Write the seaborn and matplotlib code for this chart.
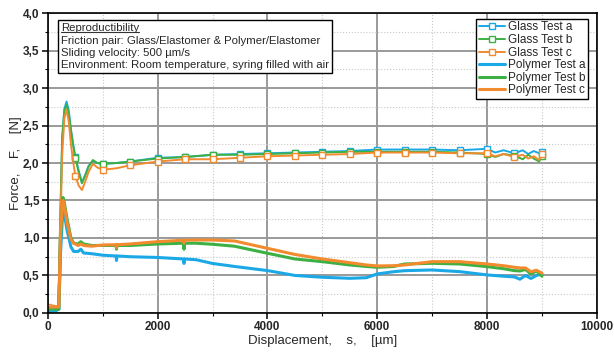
import numpy as np
import pandas as pd
import seaborn as sns
from matplotlib import pyplot as plt
from matplotlib.ticker import MultipleLocator

# glass / elastomer runs
glass_s = [0, 100, 190, 220, 260, 300, 340, 380, 420, 460, 500, 560, 620, 680, 740,
           820, 900, 1000, 1250, 1500, 2000, 2500, 3000, 3500, 4000, 4500, 5000, 5500,
           6000, 6500, 7000, 7500, 8000, 8150, 8300, 8500, 8650, 8750, 8850, 8950, 9000]
glass_a = [0.05, 0.05, 0.06, 1.0, 2.3, 2.72, 2.82, 2.7, 2.45, 2.25, 2.08, 1.9, 1.74, 1.84, 1.96,
           2.03, 2.0, 1.99, 2.0, 2.02, 2.07, 2.08, 2.11, 2.12, 2.13, 2.14, 2.15, 2.16,
           2.18, 2.18, 2.18, 2.17, 2.19, 2.14, 2.17, 2.13, 2.17, 2.12, 2.16, 2.13, 2.15]
glass_b = [0.05, 0.05, 0.06, 1.1, 2.35, 2.7, 2.78, 2.66, 2.43, 2.24, 2.07, 1.88, 1.73, 1.83, 1.95,
           2.04, 2.0, 1.99, 2.0, 2.02, 2.06, 2.08, 2.11, 2.11, 2.12, 2.13, 2.14, 2.15,
           2.15, 2.15, 2.15, 2.14, 2.12, 2.08, 2.12, 2.1, 2.05, 2.11, 2.06, 2.02, 2.1]
glass_c = [0.08, 0.1, 0.08, 0.9, 2.1, 2.6, 2.71, 2.55, 2.25, 2.02, 1.83, 1.7, 1.64, 1.75, 1.88,
           1.99, 1.94, 1.91, 1.93, 1.97, 2.02, 2.05, 2.05, 2.07, 2.09, 2.1, 2.11, 2.12,
           2.14, 2.14, 2.14, 2.13, 2.13, 2.09, 2.12, 2.08, 2.11, 2.06, 2.09, 2.04, 2.12]

# polymer / elastomer runs
poly_s = [0, 150, 200, 230, 275, 300, 350, 420, 470, 550, 600, 650, 800, 1000, 1240, 1250,
          1260, 1500, 2000, 2470, 2480, 2490, 2700, 3000, 3400, 4000, 4500, 5000, 5500,
          5800, 6000, 6300, 6500, 7000, 7500, 8000, 8300, 8500, 8600, 8700, 8800, 8900, 9000]
poly_a = [0.03, 0.03, 0.05, 0.8, 1.42, 1.32, 1.1, 0.88, 0.82, 0.82, 0.85, 0.8, 0.79, 0.77, 0.76, 0.7,
          0.76, 0.75, 0.74, 0.72, 0.66, 0.72, 0.71, 0.66, 0.62, 0.565, 0.5, 0.476, 0.462,
          0.47, 0.52, 0.55, 0.564, 0.573, 0.551, 0.507, 0.49, 0.48, 0.45, 0.5, 0.46, 0.5, 0.52]
poly_b = [0.05, 0.05, 0.05, 1.0, 1.54, 1.47, 1.25, 1.0, 0.93, 0.92, 0.95, 0.92, 0.9, 0.9, 0.9, 0.85,
          0.9, 0.9, 0.92, 0.93, 0.85, 0.93, 0.93, 0.916, 0.89, 0.796, 0.72, 0.684, 0.64,
          0.62, 0.609, 0.62, 0.653, 0.662, 0.653, 0.618, 0.59, 0.564, 0.56, 0.58, 0.52, 0.56, 0.49]
poly_c = [0.08, 0.08, 0.08, 1.1, 1.5, 1.43, 1.2, 0.98, 0.93, 0.9, 0.92, 0.9, 0.89, 0.907, 0.91, 0.87,
          0.91, 0.92, 0.951, 0.97, 0.93, 0.97, 0.973, 0.973, 0.96, 0.862, 0.78, 0.72, 0.67,
          0.64, 0.627, 0.63, 0.64, 0.684, 0.684, 0.653, 0.63, 0.609, 0.6, 0.6, 0.55, 0.57, 0.53]

series_labels = ["Glass Test a", "Glass Test b", "Glass Test c",
                 "Polymer Test a", "Polymer Test b", "Polymer Test c"]
colors = ["#1aa9e6", "#3cb043", "#f28a2e"]

yticks = [0.0, 0.5, 1.0, 1.5, 2.0, 2.5, 3.0, 3.5, 4.0]
ytick_labels = ["0,0", "0,5", "1,0", "1,5", "2,0", "2,5", "3,0", "3,5", "4,0"]
xticks = [0, 2000, 4000, 6000, 8000, 10000]

info_head = "Reproductibility"
info_lines = ["Friction pair: Glass/Elastomer & Polymer/Elastomer",
              "Sliding velocity: 500 µm/s",
              "Environment: Room temperature, syring filled with air"]

sns.set_style("white")
plt.rcParams["font.family"] = ["Liberation Sans", "DejaVu Sans"]

fig = plt.figure(figsize=(6.14, 3.54), dpi=100)
ax = fig.add_axes([0.078, 0.116, 0.894, 0.847])

glass_marks = [i for i, s in enumerate(glass_s) if s % 500 == 0]
for vals, lab, col in zip([glass_a, glass_b, glass_c], series_labels[:3], colors):
    df = pd.DataFrame({"s": glass_s, "F": vals})
    sns.lineplot(data=df, x="s", y="F", ax=ax, color=col, lw=1.4, label=lab,
                 marker="s", markersize=4, markerfacecolor="white",
                 markeredgecolor=col, markeredgewidth=1.0, markevery=glass_marks)
for vals, lab, col in zip([poly_a, poly_b, poly_c], series_labels[3:], colors):
    df = pd.DataFrame({"s": poly_s, "F": vals})
    sns.lineplot(data=df, x="s", y="F", ax=ax, color=col, lw=2.2, label=lab)

ax.set_xlim(0, 10000)
ax.set_ylim(0, 4.0)
ax.set_xticks(xticks)
ax.set_xticklabels([str(t) for t in xticks], fontweight="bold", fontsize=8.5)
ax.set_yticks(yticks)
ax.set_yticklabels(ytick_labels, fontweight="bold", fontsize=8.5)
ax.xaxis.set_minor_locator(MultipleLocator(1000))
ax.yaxis.set_minor_locator(MultipleLocator(0.25))
ax.grid(which="major", color="#9a9a9a", lw=1.4)
ax.grid(which="minor", color="#c8c8c8", lw=0.8, ls=":")
ax.set_axisbelow(True)
ax.tick_params(which="major", direction="out", length=4, width=1.1, color="black", pad=2, left=True, bottom=True)
ax.tick_params(which="minor", direction="out", length=2, width=0.8, color="black", left=True, bottom=True)
for sp in ax.spines.values():
    sp.set_color("black")
    sp.set_linewidth(1.2)

ax.set_xlabel("Displacement,    s,    [µm]", fontsize=9.5, labelpad=1)
ax.set_ylabel("Force,    F,    [N]", fontsize=9.5, labelpad=1)

leg = ax.legend(loc="upper right", bbox_to_anchor=(0.984, 0.98), borderaxespad=0,
                fontsize=8.5, frameon=True, fancybox=False, framealpha=1,
                edgecolor="black", handlelength=2.2, handletextpad=0.3,
                labelspacing=0.05, borderpad=0.2)
leg.get_frame().set_linewidth(1.0)

tx, ty = 0.024, 0.966
ax.text(tx, ty, "\n".join([info_head] + info_lines), transform=ax.transAxes,
        ha="left", va="top", fontsize=8.2, linespacing=1.3, zorder=4,
        bbox=dict(boxstyle="square,pad=0.25", facecolor="white", edgecolor="black", lw=1.0))

# underline the heading: measure it with a temporary text, then drop it
head = ax.text(tx, ty, info_head, transform=ax.transAxes, ha="left", va="top",
               fontsize=8.2, color="none")
fig.canvas.draw()
bb = head.get_window_extent(fig.canvas.get_renderer())
head.remove()
inv = ax.transAxes.inverted()
(x0, y0), (x1, _) = inv.transform([[bb.x0, bb.y0 + 1.5], [bb.x1, bb.y0]])
ax.plot([x0, x1], [y0, y0], transform=ax.transAxes, color="#333333", lw=0.8, zorder=6)

fig.savefig("out.png", dpi=100)
